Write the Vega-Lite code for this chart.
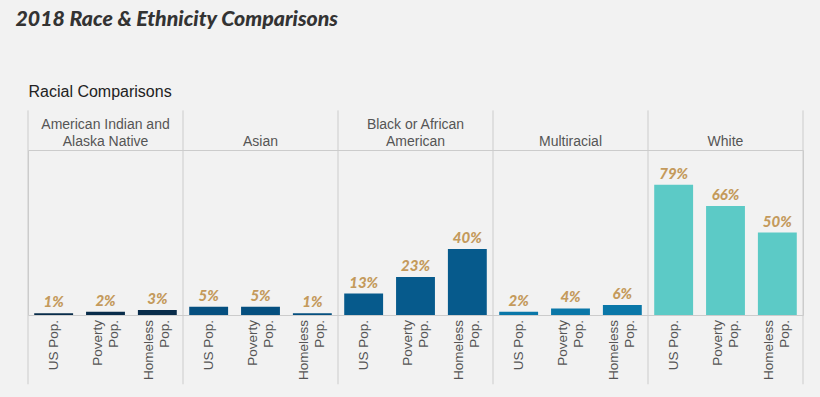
{
  "$schema": "https://vega.github.io/schema/vega-lite/v6.json",
  "autosize": {"type": "none"},
  "width": 775,
  "height": 165,
  "padding": {"left": 28, "top": 150, "right": 17, "bottom": 82},
  "background": "#f2f2f2",
  "config": {"view": {"stroke": "#cccccc", "strokeWidth": 1}},
  "title": {
    "text": "2018 Race & Ethnicity Comparisons",
    "anchor": "start",
    "dx": -12,
    "offset": 53,
    "font": "Lato",
    "fontSize": 21.3,
    "fontStyle": "italic",
    "fontWeight": 900,
    "color": "#333333"
  },
  "datasets": {
    "main": [
      {"race": "American Indian and Alaska Native", "pop": "US Pop.", "value": 0.01},
      {"race": "American Indian and Alaska Native", "pop": "Poverty\nPop.", "value": 0.02},
      {"race": "American Indian and Alaska Native", "pop": "Homeless\nPop.", "value": 0.03},
      {"race": "Asian", "pop": "US Pop.", "value": 0.05},
      {"race": "Asian", "pop": "Poverty\nPop.", "value": 0.05},
      {"race": "Asian", "pop": "Homeless\nPop.", "value": 0.01},
      {"race": "Black or African American", "pop": "US Pop.", "value": 0.13},
      {"race": "Black or African American", "pop": "Poverty\nPop.", "value": 0.23},
      {"race": "Black or African American", "pop": "Homeless\nPop.", "value": 0.40},
      {"race": "Multiracial", "pop": "US Pop.", "value": 0.02},
      {"race": "Multiracial", "pop": "Poverty\nPop.", "value": 0.04},
      {"race": "Multiracial", "pop": "Homeless\nPop.", "value": 0.06},
      {"race": "White", "pop": "US Pop.", "value": 0.79},
      {"race": "White", "pop": "Poverty\nPop.", "value": 0.66},
      {"race": "White", "pop": "Homeless\nPop.", "value": 0.50}
    ],
    "edges": [
      {"race": "American Indian and Alaska Native"},
      {"race": "Asian"},
      {"race": "Black or African American"},
      {"race": "Multiracial"},
      {"race": "White"}
    ]
  },
  "encoding": {
    "x": {
      "field": "race",
      "type": "nominal",
      "sort": ["American Indian and Alaska Native", "Asian", "Black or African American", "Multiracial", "White"],
      "scale": {"paddingInner": 0, "paddingOuter": 0},
      "axis": {
        "orient": "top",
        "labelAngle": 0,
        "ticks": false,
        "domain": false,
        "labelFont": "Liberation Sans",
        "labelFontSize": 14,
        "labelColor": "#555555",
        "labelLineHeight": 17,
        "labelPadding": 19,
        "labelExpr": "datum.value == 'American Indian and Alaska Native' ? ['American Indian and', 'Alaska Native'] : datum.value == 'Black or African American' ? ['Black or African', 'American'] : ['', datum.value]",
        "title": "Racial Comparisons",
        "titleAnchor": "start",
        "titleAlign": "left",
        "titleFont": "Liberation Sans",
        "titleFontSize": 16,
        "titleFontWeight": "normal",
        "titleColor": "#222222",
        "titlePadding": 18
      }
    },
    "xOffset": {"field": "pop", "type": "nominal", "sort": ["US Pop.", "Poverty\nPop.", "Homeless\nPop."], "scale": {"paddingInner": 0.25, "paddingOuter": 0.12}}
  },
  "layer": [
    {
      "data": {"name": "main"},
      "mark": {"type": "bar"},
      "encoding": {
        "y": {"field": "value", "type": "quantitative", "scale": {"domain": [0, 1]}, "axis": null},
        "color": {
          "field": "race",
          "type": "nominal",
          "scale": {
            "domain": ["American Indian and Alaska Native", "Asian", "Black or African American", "Multiracial", "White"],
            "range": ["#082c4a", "#054f7f", "#065a8c", "#0a77a8", "#5ccac6"]
          },
          "legend": null
        }
      }
    },
    {
      "data": {"name": "main"},
      "mark": {"type": "text", "baseline": "alphabetic", "dy": -6, "font": "Lato", "fontSize": 15, "fontStyle": "italic", "fontWeight": 900, "color": "#c49a5c"},
      "encoding": {
        "y": {"field": "value", "type": "quantitative"},
        "text": {"field": "value", "type": "quantitative", "format": ".0%"}
      }
    },
    {
      "data": {"name": "main"},
      "transform": [{"filter": "datum.pop == 'US Pop.'"}],
      "mark": {"type": "text", "angle": 270, "align": "right", "baseline": "middle", "dx": -5, "font": "Liberation Sans", "fontSize": 13.5, "color": "#555555"},
      "encoding": {
        "y": {"datum": 0},
        "text": {"field": "pop", "type": "nominal"}
      }
    },
    {
      "data": {"name": "main"},
      "transform": [{"filter": "datum.pop != 'US Pop.'"}],
      "mark": {"type": "text", "angle": 270, "align": "right", "baseline": "middle", "dx": -5, "dy": -8, "lineBreak": "\n", "lineHeight": 16, "font": "Liberation Sans", "fontSize": 13.5, "color": "#555555"},
      "encoding": {
        "y": {"datum": 0},
        "text": {"field": "pop", "type": "nominal"}
      }
    },
    {
      "data": {"name": "edges"},
      "mark": {"type": "rule", "color": "#cccccc", "strokeWidth": 1},
      "encoding": {
        "xOffset": null,
        "x": {"field": "race", "type": "nominal", "bandPosition": 0},
        "y": {"datum": 1.24},
        "y2": {"datum": -0.42}
      }
    },
    {
      "data": {"name": "edges"},
      "transform": [{"filter": "datum.race == 'White'"}],
      "mark": {"type": "rule", "color": "#cccccc", "strokeWidth": 1},
      "encoding": {
        "xOffset": null,
        "x": {"field": "race", "type": "nominal", "bandPosition": 1},
        "y": {"datum": 1.24},
        "y2": {"datum": -0.42}
      }
    }
  ]
}
